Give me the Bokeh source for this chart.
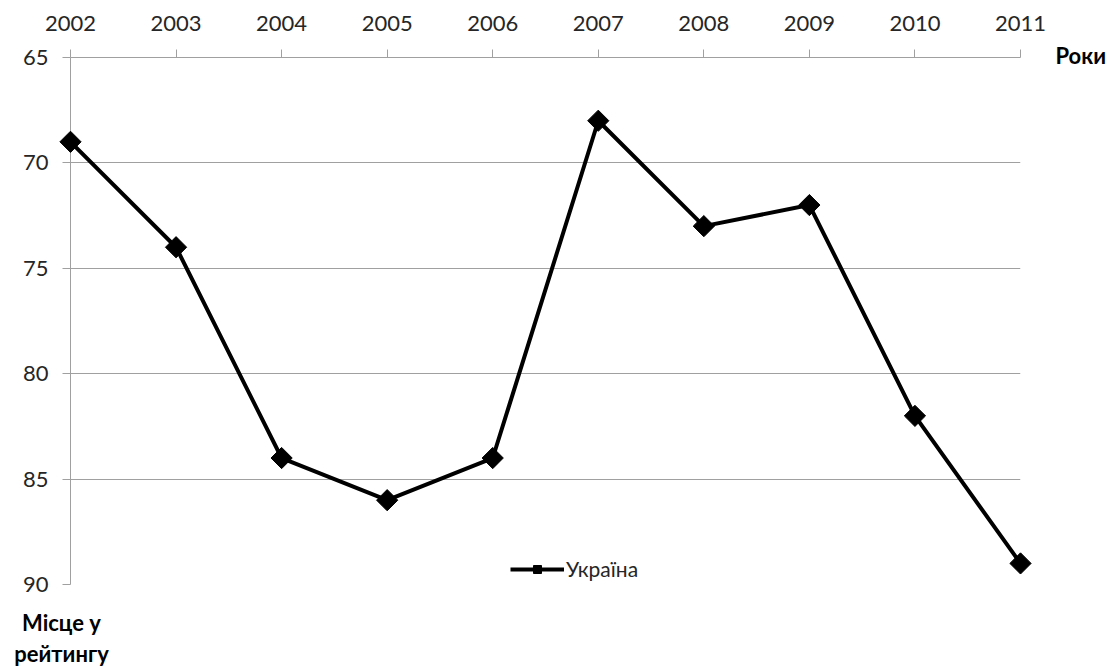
import math
from bokeh.plotting import figure
from bokeh.models import Range1d, FixedTicker, Legend, LegendItem
from bokeh.core.properties import value
from bokeh.embed import file_html
from bokeh.resources import INLINE

years = [2002, 2003, 2004, 2005, 2006, 2007, 2008, 2009, 2010, 2011]
ukraine = [69, 74, 84, 86, 84, 68, 73, 72, 82, 89]
y_ticks = [65, 70, 75, 80, 85, 90]
series_name = "Україна"
x_title = "Роки"
y_title_lines = ["Місце у", "рейтингу"]

FONT = "Lato"
GRAY = "#a0a0a0"
TXT = "#262626"

p = figure(width=1112, height=666, frame_width=950, frame_height=527,
           output_backend="svg", toolbar_location=None,
           x_axis_location="above",
           x_range=Range1d(years[0], years[-1]), y_range=Range1d(90, 65),
           min_border_left=70, min_border_right=92, min_border_top=57, min_border_bottom=82)
p.outline_line_color = None
p.background_fill_color = "white"

xa = p.xaxis[0]
xa.ticker = FixedTicker(ticks=years)
xa.minor_tick_line_color = None
xa.major_tick_out = 8
xa.major_tick_in = 0
xa.axis_line_color = GRAY
xa.major_tick_line_color = GRAY
xa.major_label_text_font = FONT
xa.major_label_text_font_size = "22px"
xa.major_label_text_color = TXT
xa.major_label_standoff = 19

ya = p.yaxis[0]
ya.ticker = FixedTicker(ticks=y_ticks)
ya.minor_tick_line_color = None
ya.major_tick_out = 8
ya.major_tick_in = 0
ya.axis_line_color = GRAY
ya.major_tick_line_color = GRAY
ya.major_label_text_font = FONT
ya.major_label_text_font_size = "22px"
ya.major_label_text_color = TXT
ya.major_label_standoff = 14

p.xgrid.grid_line_color = None
p.ygrid.ticker = FixedTicker(ticks=y_ticks)
p.ygrid.grid_line_color = GRAY
p.ygrid.grid_line_width = 1

lr = p.line(years, ukraine, line_color="black", line_width=4, level="overlay")
sr = p.scatter(years, ukraine, marker="square", angle=math.pi / 4, size=15,
               fill_color="black", line_color="black", level="overlay")

legend = Legend(items=[LegendItem(label=series_name, renderers=[lr, sr])],
                location=(440, 3), orientation="horizontal",
                glyph_width=54, glyph_height=20, label_standoff=2,
                padding=0, margin=0, border_line_color=None,
                background_fill_alpha=0,
                label_text_font=FONT, label_text_font_size="21px",
                label_text_color=TXT)
p.add_layout(legend, "center")

p.text(x=[years[-1]], y=[y_ticks[0]], text=[x_title], x_offset=35, y_offset=-2,
       text_font=value(FONT), text_font_size="22px", text_font_style="bold",
       text_color="black", text_align="left", text_baseline="middle", level="overlay")
p.text(x=[years[0]] * len(y_title_lines), y=[y_ticks[-1]] * len(y_title_lines),
       text=y_title_lines, x_offset=-9, y_offset=[38 + 31 * i for i in range(len(y_title_lines))],
       text_font=value(FONT), text_font_size="22px", text_font_style="bold",
       text_color="black", text_align="center", text_baseline="middle", level="overlay")

open("out.html", "w").write(file_html(p, INLINE))
